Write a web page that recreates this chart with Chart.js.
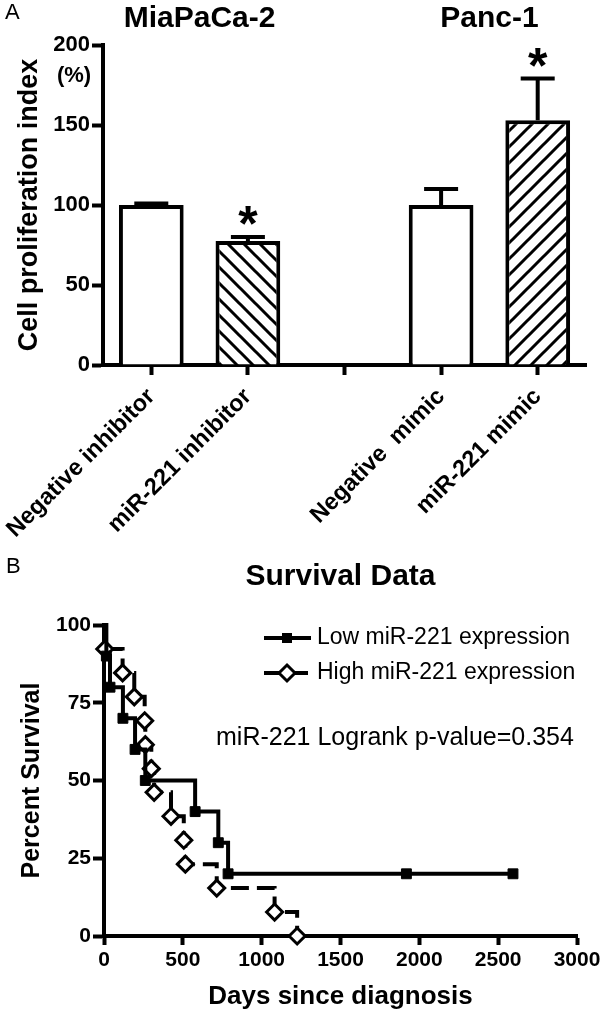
<!DOCTYPE html>
<html>
<head>
<meta charset="utf-8">
<script src="https://cdn.jsdelivr.net/npm/chart.js@4.4.1/dist/chart.umd.min.js"></script>
<style>
  html, body { margin: 0; padding: 0; background: #fff; }
  #wrap { position: relative; width: 605px; height: 1016px; }
  #barBox { position: absolute; left: 0; top: 0; width: 605px; height: 550px; }
  #survBox { position: absolute; left: 0; top: 550px; width: 605px; height: 466px; }
</style>
</head>
<body>
<div id="wrap">
  <div id="barBox"><canvas id="barChart" width="605" height="550"></canvas></div>
  <div id="survBox"><canvas id="survChart" width="605" height="466"></canvas></div>
</div>
<script>
// ==============================
// DATA
// ==============================
const barLabels = ["Negative inhibitor", "miR-221 inhibitor", "", "Negative  mimic", "miR-221 mimic"];
const barValues = [100, 77.5, null, 100, 153];
const barErrors = [1, 2.5, null, 10, 26];
const barHatch = [null, "back", null, null, "fwd"];
const barStars = [false, true, false, false, true];
const groupNames = ["MiaPaCa-2", "Panc-1"];
const groupBars = [[0, 1], [3, 4]];

const lowDays = [0, 15, 38, 120, 197, 262, 578, 725, 787, 1918, 2594];
const lowSurvival = [100, 90, 80, 70, 60, 50, 40, 30, 20, 20, 20];
const highDays = [0, 5, 118, 192, 258, 262, 300, 318, 425, 506, 516, 715, 1082, 1225];
const highSurvival = [100, 92.3, 84.6, 76.9, 69.2, 61.5, 53.8, 46.2, 38.5, 30.8, 23.1, 15.4, 7.7, 0];
const seriesNames = ["Low miR-221 expression", "High miR-221 expression"];
const pValueText = "miR-221 Logrank p-value=0.354";

const FONT = '"Liberation Sans", Arial, sans-serif';

// ==============================
// HATCH PATTERNS
// ==============================
function makeHatch(ctx, dir) {
  const s = 16;
  const tile = document.createElement("canvas");
  tile.width = s; tile.height = s;
  const g = tile.getContext("2d");
  g.fillStyle = "#fff";
  g.fillRect(0, 0, s, s);
  g.strokeStyle = "#000";
  g.lineWidth = 3;
  g.beginPath();
  if (dir === "fwd") {
    g.moveTo(-2, s + 2); g.lineTo(s + 2, -2);
    g.moveTo(-2, 2); g.lineTo(2, -2);
    g.moveTo(s - 2, s + 2); g.lineTo(s + 2, s - 2);
  } else {
    g.moveTo(-2, -2); g.lineTo(s + 2, s + 2);
    g.moveTo(s - 2, -2); g.lineTo(s + 2, 2);
    g.moveTo(-2, s - 2); g.lineTo(2, s + 2);
  }
  g.stroke();
  return ctx.createPattern(tile, "repeat");
}

// ==============================
// BAR CHART (panel A)
// ==============================
const barCtx = document.getElementById("barChart").getContext("2d");
const barFills = barHatch.map(h => h ? makeHatch(barCtx, h) : "#fff");

const barExtras = {
  id: "barExtras",
  afterDatasetsDraw(chart) {
    const ctx = chart.ctx;
    const y = chart.scales.y;
    const meta = chart.getDatasetMeta(0);
    ctx.save();
    ctx.strokeStyle = "#000";
    ctx.fillStyle = "#000";
    ctx.lineWidth = 4;
    meta.data.forEach((bar, i) => {
      if (barValues[i] == null) return;
      const base = y.getPixelForValue(barValues[i]);
      const top = y.getPixelForValue(barValues[i] + barErrors[i]);
      ctx.beginPath();
      ctx.moveTo(bar.x, base);
      ctx.lineTo(bar.x, top);
      ctx.moveTo(bar.x - 17, top);
      ctx.lineTo(bar.x + 17, top);
      ctx.stroke();
      if (barStars[i]) {
        ctx.font = "bold 50px " + FONT;
        ctx.textAlign = "center";
        ctx.textBaseline = "alphabetic";
        ctx.fillText("*", bar.x, top + 4);
      }
    });
    ctx.restore();
  },
  afterDraw(chart) {
    const ctx = chart.ctx;
    const x = chart.scales.x;
    ctx.save();
    ctx.fillStyle = "#000";
    ctx.textBaseline = "middle";
    ctx.font = "22px " + FONT;
    ctx.textAlign = "left";
    ctx.fillText("A", 5, 13);
    ctx.font = "bold 30px " + FONT;
    ctx.textAlign = "center";
    groupNames.forEach((name, g) => {
      const cx = (x.getPixelForValue(groupBars[g][0]) + x.getPixelForValue(groupBars[g][1])) / 2;
      ctx.fillText(name, cx, 19);
    });
    ctx.font = "bold 22px " + FONT;
    ctx.fillText("(%)", 74, 76);
    ctx.restore();
  }
};

new Chart(barCtx, {
  type: "bar",
  data: {
    labels: barLabels,
    datasets: [{
      data: barValues,
      backgroundColor: barFills,
      borderColor: "#000",
      borderWidth: 4,
      barPercentage: 0.67,
      categoryPercentage: 1
    }]
  },
  options: {
    responsive: false,
    animation: false,
    events: [],
    layout: { padding: { left: 0, right: 19, top: 45, bottom: 0 } },
    plugins: { legend: { display: false }, tooltip: { enabled: false } },
    scales: {
      x: {
        offset: true,
        grid: { display: true, offset: false, drawOnChartArea: false, tickLength: 10, tickWidth: 4, color: "#000" },
        border: { display: true, width: 4, color: "#000" },
        ticks: {
          color: "#000",
          font: { family: FONT, size: 23.5, weight: "bold" },
          maxRotation: 45, minRotation: 45, autoSkip: false, padding: 8
        },
        afterFit: s => { s.height = 185; s.paddingLeft = 0; s.paddingRight = 0; }
      },
      y: {
        min: 0, max: 200,
        ticks: { stepSize: 50, color: "#000", font: { family: FONT, size: 22, weight: "bold" }, padding: 2 },
        grid: { drawOnChartArea: false, tickLength: 11, tickWidth: 4, color: "#000" },
        border: { display: true, width: 4, color: "#000" },
        title: {
          display: true, text: "Cell proliferation index", color: "#000",
          font: { family: FONT, size: 27, weight: "bold" }, padding: { top: 13, bottom: 0 }
        },
        afterFit: s => { s.width = 103; }
      }
    }
  },
  plugins: [barExtras]
});

// ==============================
// SURVIVAL CHART (panel B)
// ==============================
const survCtx = document.getElementById("survChart").getContext("2d");

const survExtras = {
  id: "survExtras",
  afterDraw(chart) {
    const ctx = chart.ctx;
    const area = chart.chartArea;
    ctx.save();
    ctx.fillStyle = "#000";
    ctx.strokeStyle = "#000";
    ctx.textBaseline = "middle";
    ctx.font = "22px " + FONT;
    ctx.textAlign = "left";
    ctx.fillText("B", 6, 17);
    ctx.font = "bold 30px " + FONT;
    ctx.textAlign = "center";
    ctx.fillText("Survival Data", (area.left + area.right) / 2, 27);

    // legend
    const rows = [88, 123];
    ctx.lineWidth = 4;
    rows.forEach((ry, i) => {
      ctx.beginPath();
      ctx.setLineDash(i === 0 ? [] : [18, 8]);
      ctx.moveTo(264, ry);
      ctx.lineTo(311, ry);
      ctx.stroke();
      ctx.setLineDash([]);
      if (i === 0) {
        ctx.fillRect(282, ry - 5, 10, 10);
      } else {
        ctx.beginPath();
        ctx.moveTo(287, ry - 8); ctx.lineTo(295, ry); ctx.lineTo(287, ry + 8); ctx.lineTo(279, ry);
        ctx.closePath();
        ctx.fillStyle = "#fff"; ctx.fill();
        ctx.lineWidth = 3; ctx.stroke();
        ctx.lineWidth = 4; ctx.fillStyle = "#000";
      }
      ctx.font = "23px " + FONT;
      ctx.textAlign = "left";
      ctx.fillText(seriesNames[i], 317, ry);
    });
    ctx.font = "25px " + FONT;
    ctx.fillText(pValueText, 216, 188);
    ctx.restore();
  }
};

new Chart(survCtx, {
  type: "line",
  data: {
    datasets: [
      {
        label: seriesNames[0],
        data: lowDays.map((d, i) => ({ x: d, y: lowSurvival[i] })),
        stepped: true,
        borderColor: "#000",
        borderWidth: 4,
        pointStyle: "rect",
        pointRadius: lowDays.map((d, i) => i === 0 ? 0 : 7),
        pointBackgroundColor: "#000",
        pointBorderColor: "#000",
        pointBorderWidth: 1,
        clip: false
      },
      {
        label: seriesNames[1],
        data: highDays.map((d, i) => ({ x: d, y: highSurvival[i] })),
        stepped: true,
        borderColor: "#000",
        borderWidth: 4,
        borderDash: [18, 8],
        pointStyle: "rectRot",
        pointRadius: highDays.map((d, i) => i === 0 ? 0 : 8),
        pointBackgroundColor: "#fff",
        pointBorderColor: "#000",
        pointBorderWidth: 3,
        clip: false
      }
    ]
  },
  options: {
    responsive: false,
    animation: false,
    events: [],
    layout: { padding: { left: 0, right: 28, top: 75, bottom: 0 } },
    plugins: { legend: { display: false }, tooltip: { enabled: false } },
    scales: {
      x: {
        type: "linear", min: 0, max: 3000,
        ticks: {
          stepSize: 500, color: "#000", font: { family: FONT, size: 21, weight: "bold" }, padding: 3,
          callback: v => String(v)
        },
        grid: { drawOnChartArea: false, tickLength: 9, tickWidth: 4, color: "#000" },
        border: { display: true, width: 4, color: "#000" },
        title: {
          display: true, text: "Days since diagnosis", color: "#000",
          font: { family: FONT, size: 26, weight: "bold" }, padding: { top: 0, bottom: 4 }
        },
        afterFit: s => { s.height = 80; s.paddingLeft = 0; s.paddingRight = 0; }
      },
      y: {
        min: 0, max: 100,
        ticks: { stepSize: 25, color: "#000", font: { family: FONT, size: 21, weight: "bold" }, padding: 2 },
        grid: { drawOnChartArea: false, tickLength: 11, tickWidth: 4, color: "#000" },
        border: { display: true, width: 4, color: "#000" },
        title: {
          display: true, text: "Percent Survival", color: "#000",
          font: { family: FONT, size: 25, weight: "bold" }, padding: { top: 17, bottom: 0 }
        },
        afterFit: s => { s.width = 104; }
      }
    }
  },
  plugins: [survExtras]
});
</script>
</body>
</html>
